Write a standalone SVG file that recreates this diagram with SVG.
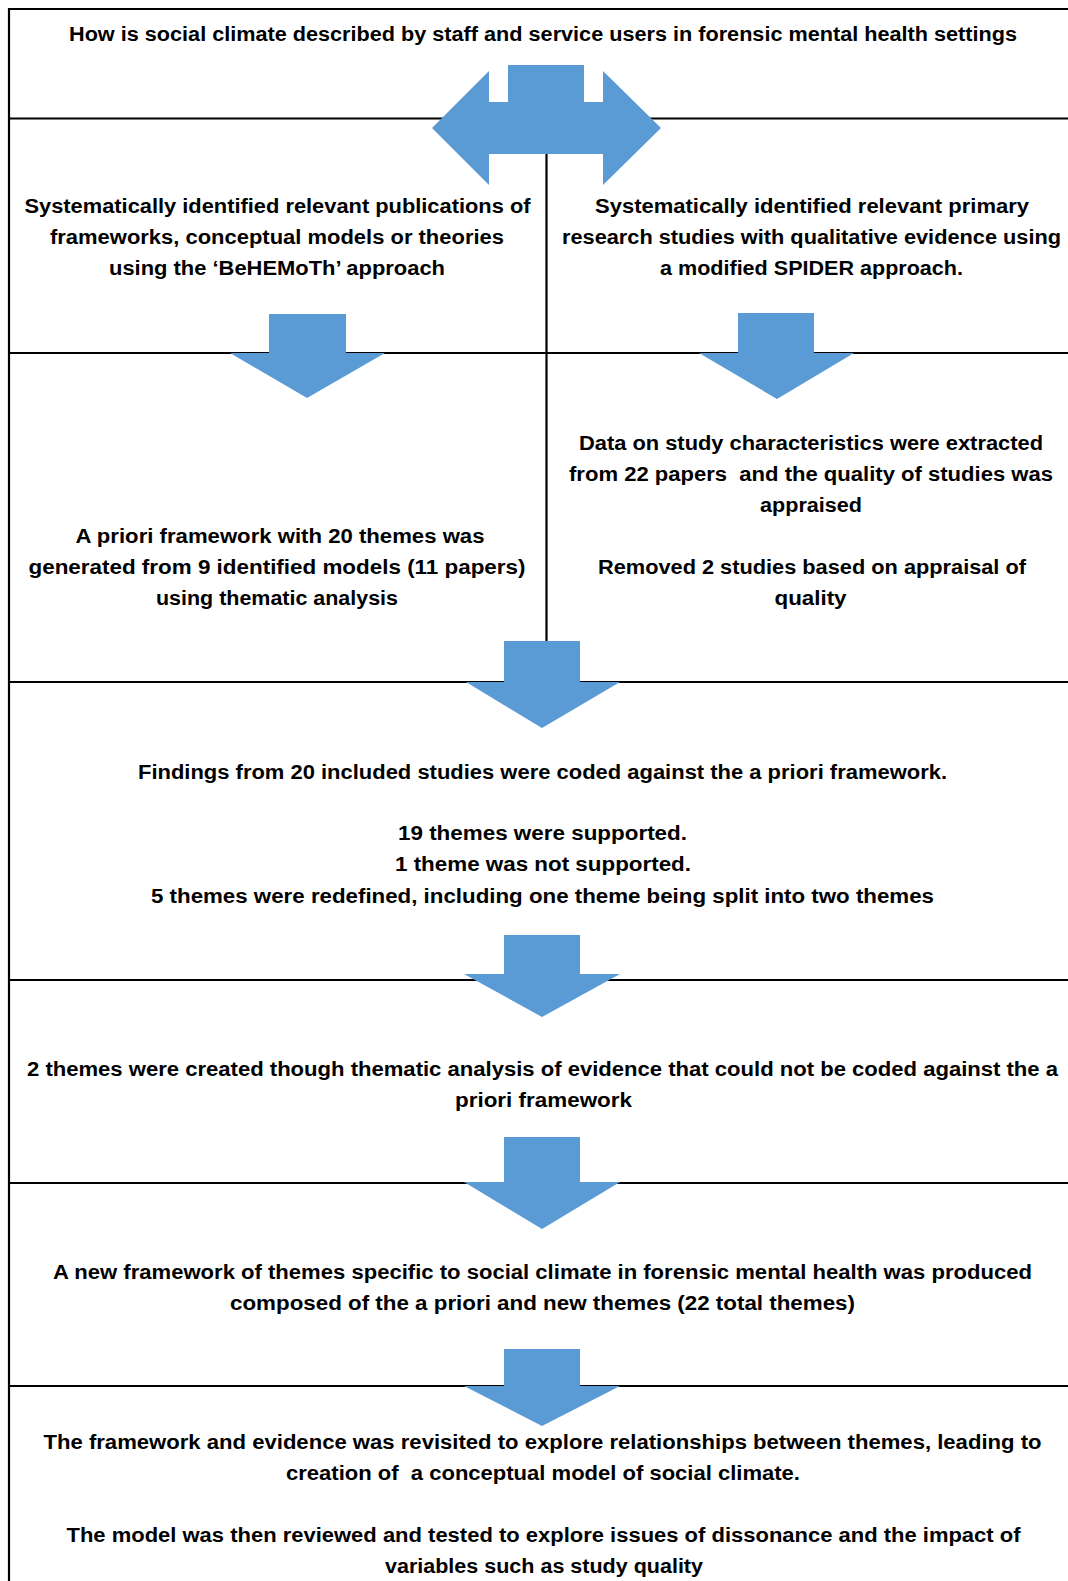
<svg xmlns="http://www.w3.org/2000/svg" width="1068" height="1581" viewBox="0 0 1068 1581">
<style>
.t{font-family:"Liberation Sans",Arial,sans-serif;font-weight:bold;font-size:20px;fill:#000;text-anchor:middle}
.ln{stroke:#000;stroke-width:2.2;fill:none}
.ar{fill:#5B9BD5}
</style>
<rect width="1068" height="1581" fill="#fff"/>
<g id="frame">
<path class="ln" d="M9,1581 V9 H1068"/>
<path class="ln" d="M9,118.5 H1068 M9,353 H1068 M9,682 H1068 M9,980 H1068 M9,1183 H1068 M9,1386 H1068"/>
<path class="ln" d="M546.5,118.5 V641"/>
</g>
<g id="node-question">
<text class="t" x="543" y="41" textLength="948" lengthAdjust="spacingAndGlyphs">How is social climate described by staff and service users in forensic mental health settings</text>
</g>
<g id="node-frameworks">
<text class="t" x="277.5" y="213" textLength="506" lengthAdjust="spacingAndGlyphs">Systematically identified relevant publications of</text>
<text class="t" x="277" y="244" textLength="454" lengthAdjust="spacingAndGlyphs">frameworks, conceptual models or theories</text>
<text class="t" x="277" y="275" textLength="336" lengthAdjust="spacingAndGlyphs">using the ‘BeHEMoTh’ approach</text>
</g>
<g id="node-primary">
<text class="t" x="812" y="213" textLength="434" lengthAdjust="spacingAndGlyphs">Systematically identified relevant primary</text>
<text class="t" x="811.5" y="244" textLength="499" lengthAdjust="spacingAndGlyphs">research studies with qualitative evidence using</text>
<text class="t" x="811.5" y="275" textLength="303" lengthAdjust="spacingAndGlyphs">a modified SPIDER approach.</text>
</g>
<g id="node-apriori">
<text class="t" x="280" y="543" textLength="409" lengthAdjust="spacingAndGlyphs">A priori framework with 20 themes was</text>
<text class="t" x="277" y="574" textLength="497" lengthAdjust="spacingAndGlyphs">generated from 9 identified models (11 papers)</text>
<text class="t" x="277" y="605" textLength="242" lengthAdjust="spacingAndGlyphs">using thematic analysis</text>
</g>
<g id="node-extraction">
<text class="t" x="811" y="450" textLength="464" lengthAdjust="spacingAndGlyphs">Data on study characteristics were extracted</text>
<text class="t" x="811" y="481" textLength="484" lengthAdjust="spacingAndGlyphs" xml:space="preserve">from 22 papers  and the quality of studies was</text>
<text class="t" x="811" y="512" textLength="102" lengthAdjust="spacingAndGlyphs">appraised</text>
<text class="t" x="812" y="574" textLength="428" lengthAdjust="spacingAndGlyphs">Removed 2 studies based on appraisal of</text>
<text class="t" x="810.5" y="605" textLength="72" lengthAdjust="spacingAndGlyphs">quality</text>
</g>
<g id="node-coding">
<text class="t" x="542.5" y="779" textLength="809" lengthAdjust="spacingAndGlyphs">Findings from 20 included studies were coded against the a priori framework.</text>
<text class="t" x="542.5" y="840" textLength="289" lengthAdjust="spacingAndGlyphs">19 themes were supported.</text>
<text class="t" x="543" y="871" textLength="296" lengthAdjust="spacingAndGlyphs">1 theme was not supported.</text>
<text class="t" x="542.5" y="903" textLength="783" lengthAdjust="spacingAndGlyphs">5 themes were redefined, including one theme being split into two themes</text>
</g>
<g id="node-newthemes">
<text class="t" x="542.5" y="1076" textLength="1031" lengthAdjust="spacingAndGlyphs">2 themes were created though thematic analysis of evidence that could not be coded against the a</text>
<text class="t" x="543.5" y="1107" textLength="177" lengthAdjust="spacingAndGlyphs">priori framework</text>
</g>
<g id="node-newframework">
<text class="t" x="542.5" y="1279" textLength="979" lengthAdjust="spacingAndGlyphs">A new framework of themes specific to social climate in forensic mental health was produced</text>
<text class="t" x="542.5" y="1310" textLength="625" lengthAdjust="spacingAndGlyphs">composed of the a priori and new themes (22 total themes)</text>
</g>
<g id="node-model">
<text class="t" x="542.5" y="1449" textLength="998" lengthAdjust="spacingAndGlyphs">The framework and evidence was revisited to explore relationships between themes, leading to</text>
<text class="t" x="543" y="1480" textLength="514" lengthAdjust="spacingAndGlyphs" xml:space="preserve">creation of  a conceptual model of social climate.</text>
<text class="t" x="543.5" y="1542" textLength="954" lengthAdjust="spacingAndGlyphs">The model was then reviewed and tested to explore issues of dissonance and the impact of</text>
<text class="t" x="544" y="1573" textLength="318" lengthAdjust="spacingAndGlyphs">variables such as study quality</text>
</g>
<g id="connectors">
<polygon class="ar" points="508,65 584,65 584,102 603,102 603,71 661,128 603,185 603,154 489,154 489,185 432,128 489,71 489,102 508,102"/>
<polygon class="ar" points="269,314 346,314 346,353 385,353 307,398 230,353 269,353"/>
<polygon class="ar" points="738,313 814,313 814,353 854,353 777,399 699,353 738,353"/>
<polygon class="ar" points="504,641 580,641 580,682 620,682 542,728 466,682 504,682"/>
<polygon class="ar" points="504,935 580,935 580,974 620,974 542,1017 464,974 504,974"/>
<polygon class="ar" points="504,1137 580,1137 580,1182 620,1182 542,1229 464,1182 504,1182"/>
<polygon class="ar" points="504,1349 580,1349 580,1386 620,1386 542,1426 464,1386 504,1386"/>
</g>
</svg>
